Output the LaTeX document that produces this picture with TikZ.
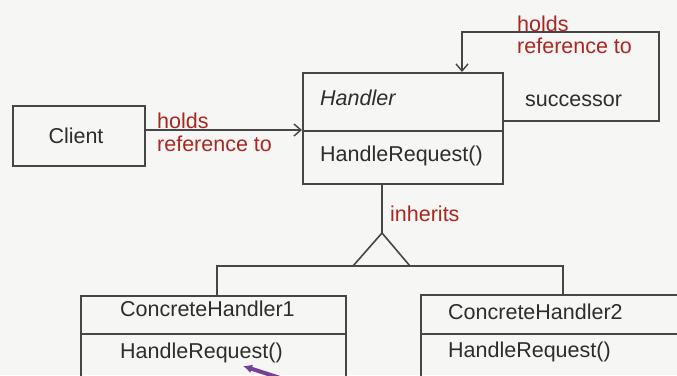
\documentclass[tikz,border=0pt]{standalone}
\usepackage{fontspec}
\setmainfont{Liberation Sans}
\usetikzlibrary{arrows.meta}
\definecolor{ink}{RGB}{45,45,45}
\definecolor{wire}{RGB}{70,70,70}
\definecolor{notered}{RGB}{170,38,32}
\definecolor{paper}{RGB}{246,246,244}
\definecolor{pen}{RGB}{115,65,150}
\begin{document}
\begin{tikzpicture}[x=1pt,y=-1pt,
  box/.style={draw=wire, line width=1.6pt, rectangle, inner sep=0pt, anchor=north west},
  lbl/.style={text=ink, font=\fontsize{21.5}{24}\selectfont, inner sep=0pt, anchor=base west},
  note/.style={lbl, text=notered},
  wire/.style={draw=wire, line width=1.6pt},
  arr/.style={wire, -{Straight Barb[length=7pt,width=12pt,line width=1.4pt]}}]
\fill[paper] (0,0) rectangle (677,375);
\useasboundingbox (0,0) rectangle (677,375);
\clip (0,0) rectangle (677,375);

% class boxes
\node[box, minimum width=132pt, minimum height=60pt] (client) at (12,105) {};
\node[box, minimum width=200pt, minimum height=58pt] (hname) at (302,72) {};
\node[box, minimum width=200pt, minimum height=53pt] (hops) at (302,130) {};
\node[box, minimum width=265pt, minimum height=38pt] (c1name) at (80,295) {};
\node[box, minimum width=265pt, minimum height=70pt] (c1ops) at (80,333) {};
\node[box, minimum width=280pt, minimum height=39pt] (c2name) at (420,294) {};
\node[box, minimum width=280pt, minimum height=70pt] (c2ops) at (420,333) {};

% box texts
\node[lbl, anchor=base] (clienttxt) at (76,143) {Client};
\node[lbl] (htxt) at (320,105) {\itshape Handler};
\node[lbl] (hoptxt) at (320,161) {HandleRequest()};
\node[lbl] (c1txt) at (120,316) {ConcreteHandler1};
\node[lbl] (c1optxt) at (120,358) {HandleRequest()};
\node[lbl] (c2txt) at (448,319) {ConcreteHandler2};
\node[lbl] (c2optxt) at (448,357) {HandleRequest()};

% client holds a reference to the handler
\coordinate (cout) at (144,130);
\draw[arr] (cout) -- (hops.north west);
\node[note] (n1a) at (157,128) {holds};
\node[note] (n1b) at (157,151) {reference to};

% successor self reference
\coordinate (sout) at (502,121);
\coordinate (sc1) at (659,121);
\coordinate (sc2) at (659,32);
\coordinate (sc3) at (462,32);
\coordinate (sin) at (462,72);
\draw[arr] (sout) -- (sc1) -- (sc2) -- (sc3) -- (sin);
\node[note] (n2a) at (517,31) {holds};
\node[note] (n2b) at (517,53) {reference to};
\node[lbl] (succ) at (525,106) {successor};

% inheritance
\coordinate (hbot) at (382,183);
\coordinate (apex) at (382,233);
\coordinate (bl) at (353,266);
\coordinate (br) at (410,266);
\coordinate (left) at (217,266);
\coordinate (right) at (563,266);
\coordinate (c1top) at (217,295);
\coordinate (c2top) at (563,294);
\draw[wire] (hbot) -- (apex);
\draw[wire, line join=miter] (apex) -- (bl) -- (br) -- cycle;
\draw[wire] (c1top) -- (left) -- (right) -- (c2top);
\node[note] (n3) at (390,221) {inherits};

% pointer stroke
\coordinate (ptail) at (305,386);
\coordinate (ptip) at (243,366);
\draw[pen, line width=4pt, -{Latex[length=9pt,width=9pt]}] (ptail) -- (ptip);
\end{tikzpicture}
\end{document}
